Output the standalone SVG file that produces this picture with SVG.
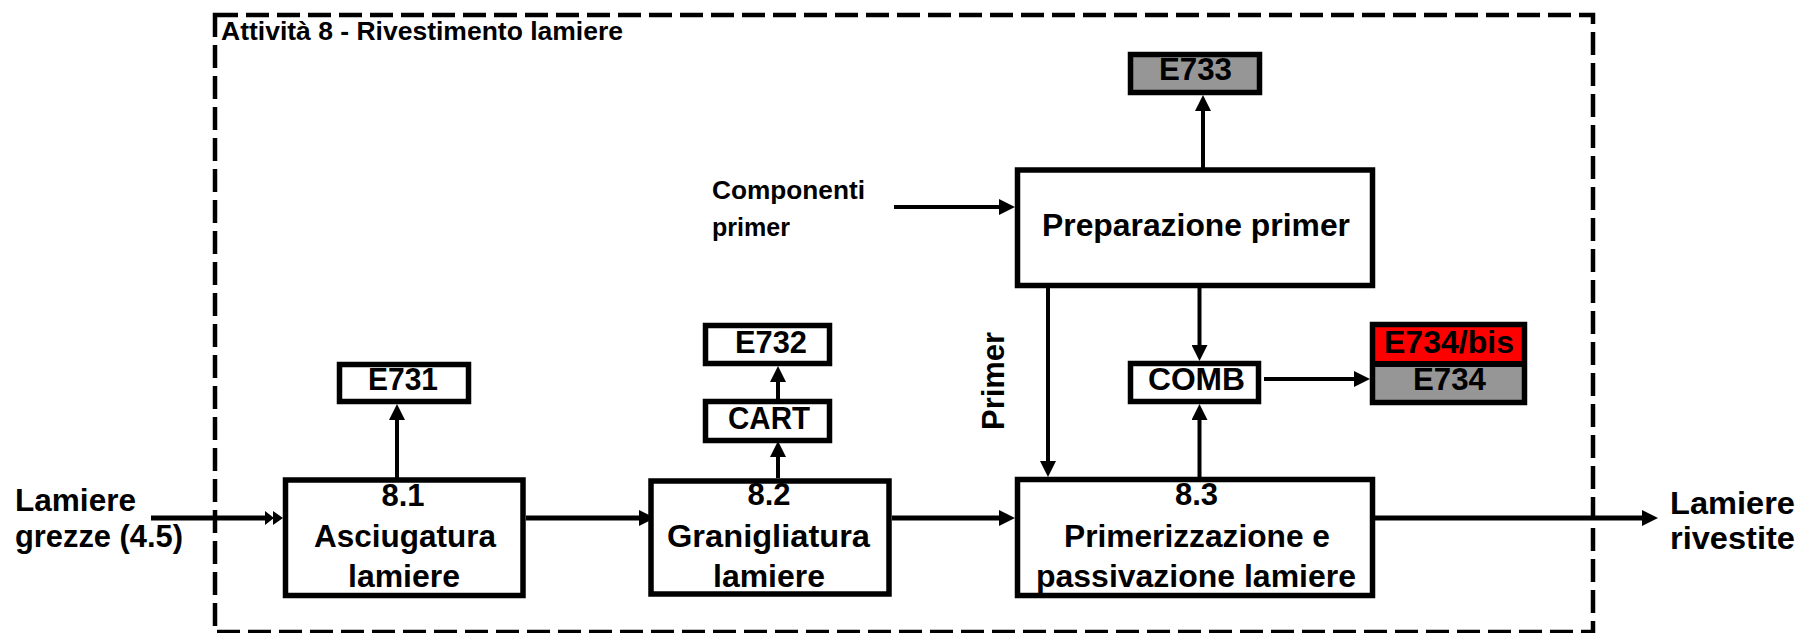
<svg xmlns="http://www.w3.org/2000/svg" width="1798" height="633" viewBox="0 0 1798 633">
<style>
text{font-family:"Liberation Sans",Arial,sans-serif;font-weight:bold;fill:#000}
.box{fill:#fff;stroke:#000;stroke-width:5.5}
.gray{fill:#969696;stroke:#000;stroke-width:5.5}
.t28{font-size:31px;text-anchor:middle}
.lbl{font-size:31px}
.ln{stroke:#000;stroke-width:4;fill:none;marker-end:url(#ah)}
.lnm{stroke:#000;stroke-width:5;fill:none;marker-end:url(#ah)}
</style>
<defs>
<marker id="ah" markerUnits="userSpaceOnUse" markerWidth="16" markerHeight="16" viewBox="0 0 16 16" refX="10" refY="8" orient="auto">
<path d="M0,0 L16,8 L0,16 z" fill="#000"/>
</marker>
</defs>
<rect fill="#fff" x="0" y="0" width="1798" height="633"/>
<g id="boundary">
<rect x="215" y="15" width="1378" height="617" fill="none" stroke="#000" stroke-width="4.5" stroke-dasharray="23 8"/>
<text x="221" y="40" font-size="26" textLength="402" lengthAdjust="spacingAndGlyphs">Attività 8 - Rivestimento lamiere</text>
</g>
<g id="connectors">
<line class="lnm" x1="151" y1="518" x2="266" y2="518" style="marker-end:none"/>
<path d="M265,511 L274,518 L265,525 z M273,511 L283,518 L273,525 z" fill="#000"/>
<line class="lnm" x1="526" y1="518" x2="649" y2="518"/>
<line class="lnm" x1="892" y1="518" x2="1009" y2="518"/>
<line class="lnm" x1="1375" y1="518" x2="1652" y2="518"/>
<line class="ln" x1="397" y1="478" x2="397" y2="410"/>
<line class="ln" x1="778" y1="478" x2="778" y2="447"/>
<line class="ln" x1="778" y1="399" x2="778" y2="372"/>
<line class="ln" x1="894" y1="207" x2="1009" y2="207"/>
<line class="ln" x1="1203" y1="168" x2="1203" y2="101"/>
<line class="ln" x1="1199.5" y1="288" x2="1199.5" y2="355"/>
<line class="ln" x1="1199.5" y1="477" x2="1199.5" y2="410"/>
<line class="ln" x1="1264" y1="379" x2="1364" y2="379"/>
<line class="ln" x1="1048" y1="288" x2="1048" y2="471"/>
</g>
<g id="in-label">
<text class="lbl" x="15" y="511" textLength="121" lengthAdjust="spacingAndGlyphs">Lamiere</text>
<text class="lbl" x="15" y="547" textLength="168" lengthAdjust="spacingAndGlyphs">grezze (4.5)</text>
</g>
<g id="out-label">
<text class="lbl" x="1670" y="514" textLength="125" lengthAdjust="spacingAndGlyphs">Lamiere</text>
<text class="lbl" x="1670" y="549" textLength="125" lengthAdjust="spacingAndGlyphs">rivestite</text>
</g>
<g id="componenti">
<text x="712" y="199" font-size="26" textLength="153" lengthAdjust="spacingAndGlyphs">Componenti</text>
<text x="712" y="236" font-size="26" textLength="78" lengthAdjust="spacingAndGlyphs">primer</text>
</g>
<g id="primer-label">
<text transform="translate(1004,381) rotate(-90)" font-size="31" text-anchor="middle" textLength="98" lengthAdjust="spacingAndGlyphs">Primer</text>
</g>
<g id="n81">
<rect class="box" x="285.5" y="480" width="237.5" height="115.5"/>
<text class="t28" x="403" y="506">8.1</text>
<text class="t28" x="405" y="547" textLength="182" lengthAdjust="spacingAndGlyphs">Asciugatura</text>
<text class="t28" x="404" y="587" textLength="112" lengthAdjust="spacingAndGlyphs">lamiere</text>
</g>
<g id="n82">
<rect class="box" x="651" y="481" width="238" height="113"/>
<text class="t28" x="769" y="505">8.2</text>
<text class="t28" x="768.5" y="547" textLength="203" lengthAdjust="spacingAndGlyphs">Granigliatura</text>
<text class="t28" x="769" y="587" textLength="112" lengthAdjust="spacingAndGlyphs">lamiere</text>
</g>
<g id="n83">
<rect class="box" x="1017.5" y="479.5" width="355" height="116"/>
<text class="t28" x="1196.5" y="505">8.3</text>
<text class="t28" x="1197" y="547" textLength="266" lengthAdjust="spacingAndGlyphs">Primerizzazione e</text>
<text class="t28" x="1196" y="587" textLength="320" lengthAdjust="spacingAndGlyphs">passivazione lamiere</text>
</g>
<g id="prep">
<rect class="box" x="1017.5" y="170" width="355" height="115.5"/>
<text class="t28" x="1196" y="236" font-size="31" textLength="308" lengthAdjust="spacingAndGlyphs">Preparazione primer</text>
</g>
<g id="e731">
<rect class="box" x="339.5" y="364.5" width="129" height="37"/>
<text class="t28" x="403" y="390" textLength="70" lengthAdjust="spacingAndGlyphs">E731</text>
</g>
<g id="cart">
<rect class="box" x="705.5" y="401.5" width="124" height="39"/>
<text class="t28" x="769" y="429" textLength="82" lengthAdjust="spacingAndGlyphs">CART</text>
</g>
<g id="e732">
<rect class="box" x="705.5" y="325.5" width="124" height="38"/>
<text class="t28" x="771" y="353" textLength="72" lengthAdjust="spacingAndGlyphs">E732</text>
</g>
<g id="e733">
<rect class="gray" x="1130.5" y="54.5" width="129" height="38"/>
<text class="t28" x="1195.5" y="80" textLength="73" lengthAdjust="spacingAndGlyphs">E733</text>
</g>
<g id="comb">
<rect class="box" x="1130.5" y="363.5" width="128" height="38"/>
<text class="t28" x="1196.5" y="390" textLength="97" lengthAdjust="spacingAndGlyphs">COMB</text>
</g>
<g id="e734">
<rect x="1372.5" y="324.5" width="152" height="39.5" fill="#ff0000"/>
<rect x="1372.5" y="364" width="152" height="38.5" fill="#969696"/>
<rect x="1372.5" y="324.5" width="152" height="78" fill="none" stroke="#000" stroke-width="5.5"/>
<line x1="1372.5" y1="364" x2="1524.5" y2="364" stroke="#000" stroke-width="6"/>
<text class="t28" x="1449" y="353" font-size="30" textLength="130" lengthAdjust="spacingAndGlyphs">E734/bis</text>
<text class="t28" x="1449.5" y="390" textLength="73" lengthAdjust="spacingAndGlyphs">E734</text>
</g>
</svg>
